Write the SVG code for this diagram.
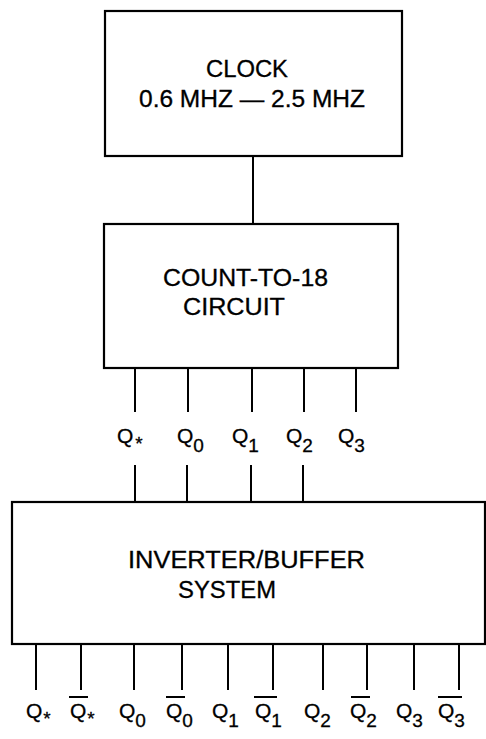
<svg xmlns="http://www.w3.org/2000/svg" width="486" height="739" viewBox="0 0 486 739">
<style>
.box{fill:#fff;stroke:#000;stroke-width:2.2}
.ln{stroke:#000;stroke-width:2;fill:none}
.t{font-family:"Liberation Sans",Arial,sans-serif;fill:#000;stroke:#000;stroke-width:0.3}
.big{font-size:23px}
.q{font-size:21px}
.s{font-size:19px}
</style>
<rect width="486" height="739" fill="#fff"/>
<g id="clock">
<rect class="box" x="105" y="11" width="297" height="145"/>
<text class="t big" x="206" y="77" textLength="82" lengthAdjust="spacingAndGlyphs">CLOCK</text>
<text class="t big" x="139" y="107" textLength="226" lengthAdjust="spacingAndGlyphs">0.6 MHZ — 2.5 MHZ</text>
</g>
<g id="counter">
<rect class="box" x="104" y="224" width="294" height="144"/>
<text class="t big" x="163" y="286" textLength="165" lengthAdjust="spacingAndGlyphs">COUNT-TO-18</text>
<text class="t big" x="183" y="315" textLength="102" lengthAdjust="spacingAndGlyphs">CIRCUIT</text>
</g>
<g id="inverter">
<rect class="box" x="12" y="502" width="473" height="142"/>
<text class="t big" x="128" y="568" textLength="237" lengthAdjust="spacingAndGlyphs">INVERTER/BUFFER</text>
<text class="t big" x="178" y="598" textLength="98" lengthAdjust="spacingAndGlyphs">SYSTEM</text>
</g>
<g id="connectors">
<line class="ln" x1="253" y1="156" x2="253" y2="224"/>
<line class="ln" x1="135" y1="368" x2="135" y2="412"/>
<line class="ln" x1="188" y1="368" x2="188" y2="412"/>
<line class="ln" x1="252" y1="368" x2="252" y2="412"/>
<line class="ln" x1="304" y1="368" x2="304" y2="412"/>
<line class="ln" x1="356" y1="368" x2="356" y2="412"/>
<line class="ln" x1="135" y1="465" x2="135" y2="502"/>
<line class="ln" x1="187" y1="465" x2="187" y2="502"/>
<line class="ln" x1="251" y1="465" x2="251" y2="502"/>
<line class="ln" x1="303" y1="465" x2="303" y2="502"/>
<line class="ln" x1="36" y1="644" x2="36" y2="690"/>
<line class="ln" x1="81" y1="644" x2="81" y2="690"/>
<line class="ln" x1="134" y1="644" x2="134" y2="690"/>
<line class="ln" x1="182" y1="644" x2="182" y2="690"/>
<line class="ln" x1="228" y1="644" x2="228" y2="690"/>
<line class="ln" x1="273" y1="644" x2="273" y2="690"/>
<line class="ln" x1="323" y1="644" x2="323" y2="690"/>
<line class="ln" x1="367" y1="644" x2="367" y2="690"/>
<line class="ln" x1="414" y1="644" x2="414" y2="690"/>
<line class="ln" x1="459" y1="644" x2="459" y2="690"/>
</g>
<g id="counter-labels">
<text class="t q" x="117" y="443">Q<tspan dx="2" dy="7" font-size="19">*</tspan></text>
<text class="t q" x="177" y="443">Q<tspan class="s" dy="9">0</tspan></text>
<text class="t q" x="232" y="443">Q<tspan class="s" dy="9">1</tspan></text>
<text class="t q" x="286" y="443">Q<tspan class="s" dy="9">2</tspan></text>
<text class="t q" x="338" y="443">Q<tspan class="s" dy="9">3</tspan></text>
</g>
<g id="output-labels">
<text class="t q" x="26" y="718">Q<tspan dx="1" dy="7" font-size="19">*</tspan></text>
<text class="t q" x="70" y="718">Q<tspan dx="1" dy="7" font-size="19">*</tspan></text>
<text class="t q" x="119" y="718">Q<tspan class="s" dy="9">0</tspan></text>
<text class="t q" x="166" y="718">Q<tspan class="s" dy="9">0</tspan></text>
<text class="t q" x="212" y="718">Q<tspan class="s" dy="9">1</tspan></text>
<text class="t q" x="255" y="718">Q<tspan class="s" dy="9">1</tspan></text>
<text class="t q" x="304" y="718">Q<tspan class="s" dy="9">2</tspan></text>
<text class="t q" x="350" y="718">Q<tspan class="s" dy="9">2</tspan></text>
<text class="t q" x="396" y="718">Q<tspan class="s" dy="9">3</tspan></text>
<text class="t q" x="438" y="718">Q<tspan class="s" dy="9">3</tspan></text>
<line class="ln" x1="69" y1="697" x2="88" y2="697"/>
<line class="ln" x1="166" y1="697" x2="185" y2="697"/>
<line class="ln" x1="254" y1="697" x2="277" y2="697"/>
<line class="ln" x1="351" y1="697" x2="370" y2="697"/>
<line class="ln" x1="438" y1="697" x2="462" y2="697"/>
</g>
</svg>
